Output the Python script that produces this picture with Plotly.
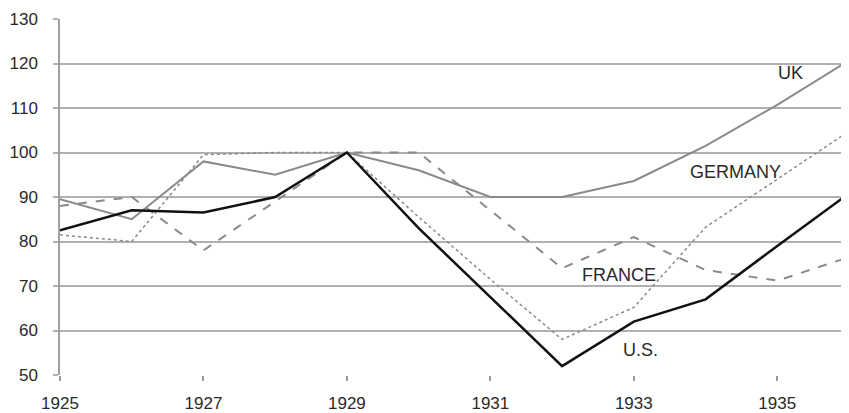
import plotly.graph_objects as go

years = [1925, 1926, 1927, 1928, 1929, 1930, 1931, 1932, 1933, 1934, 1935, 1936]
us = [82.5, 87, 86.5, 90, 100, 83, 67.5, 52, 62, 67, 79, 90.8]
uk = [89.5, 85, 98, 95, 100, 96, 90, 90, 93.6, 101.5, 110.7, 120.7]
germany = [81.5, 80, 99.5, 100, 100, 85.5, 71.5, 58, 65.2, 83.2, 94, 104.8]
france = [88, 90, 78, 89, 100, 100, 87, 74, 81, 73.6, 71.2, 76.5]

labels = ["UK", "GERMANY", "FRANCE", "U.S."]
label_x = [1935.18, 1934.42, 1932.8, 1933.1]
label_y = [117.9, 95.6, 72.4, 55.6]

x_ticks = [1925, 1927, 1929, 1931, 1933, 1935]
y_ticks = [50, 60, 70, 80, 90, 100, 110, 120, 130]

fig = go.Figure()
fig.add_trace(go.Scatter(x=years, y=france, mode="lines",
                         line=dict(color="#8a8a8a", width=2, dash="dash")))
fig.add_trace(go.Scatter(x=years, y=germany, mode="lines",
                         line=dict(color="#8a8a8a", width=1.5, dash="dot")))
fig.add_trace(go.Scatter(x=years, y=uk, mode="lines",
                         line=dict(color="#8a8a8a", width=2)))
fig.add_trace(go.Scatter(x=years, y=us, mode="lines",
                         line=dict(color="#111111", width=2.5)))

for t, xx, yy in zip(labels, label_x, label_y):
    fig.add_annotation(x=xx, y=yy, text=t, showarrow=False,
                       font=dict(size=18, color="#2a2a2a"))

fig.update_layout(
    width=841, height=405,
    margin=dict(l=52, r=0, t=11, b=38, autoexpand=False),
    paper_bgcolor="white", plot_bgcolor="white",
    showlegend=False,
    font=dict(family="Liberation Sans, Arial, sans-serif", size=17, color="#2a2a2a"),
)
fig.update_xaxes(range=[1925, 1936], tickvals=x_ticks, ticktext=[str(v) for v in x_ticks],
                 showgrid=False, zeroline=False, showline=False,
                 ticks="outside", ticklen=5, tickcolor="#999999", tickwidth=1.5,
                 ticklabelstandoff=8)
fig.update_yaxes(range=[50, 130], tickvals=y_ticks,
                 showgrid=True, gridcolor="#b0b0b0", gridwidth=1.5,
                 zeroline=False, showline=True, linecolor="#a0a0a0", linewidth=1.5,
                 ticks="outside", ticklen=5, tickcolor="#b0b0b0", tickwidth=1.5,
                 ticklabelstandoff=12)

fig.write_html("out.html")
